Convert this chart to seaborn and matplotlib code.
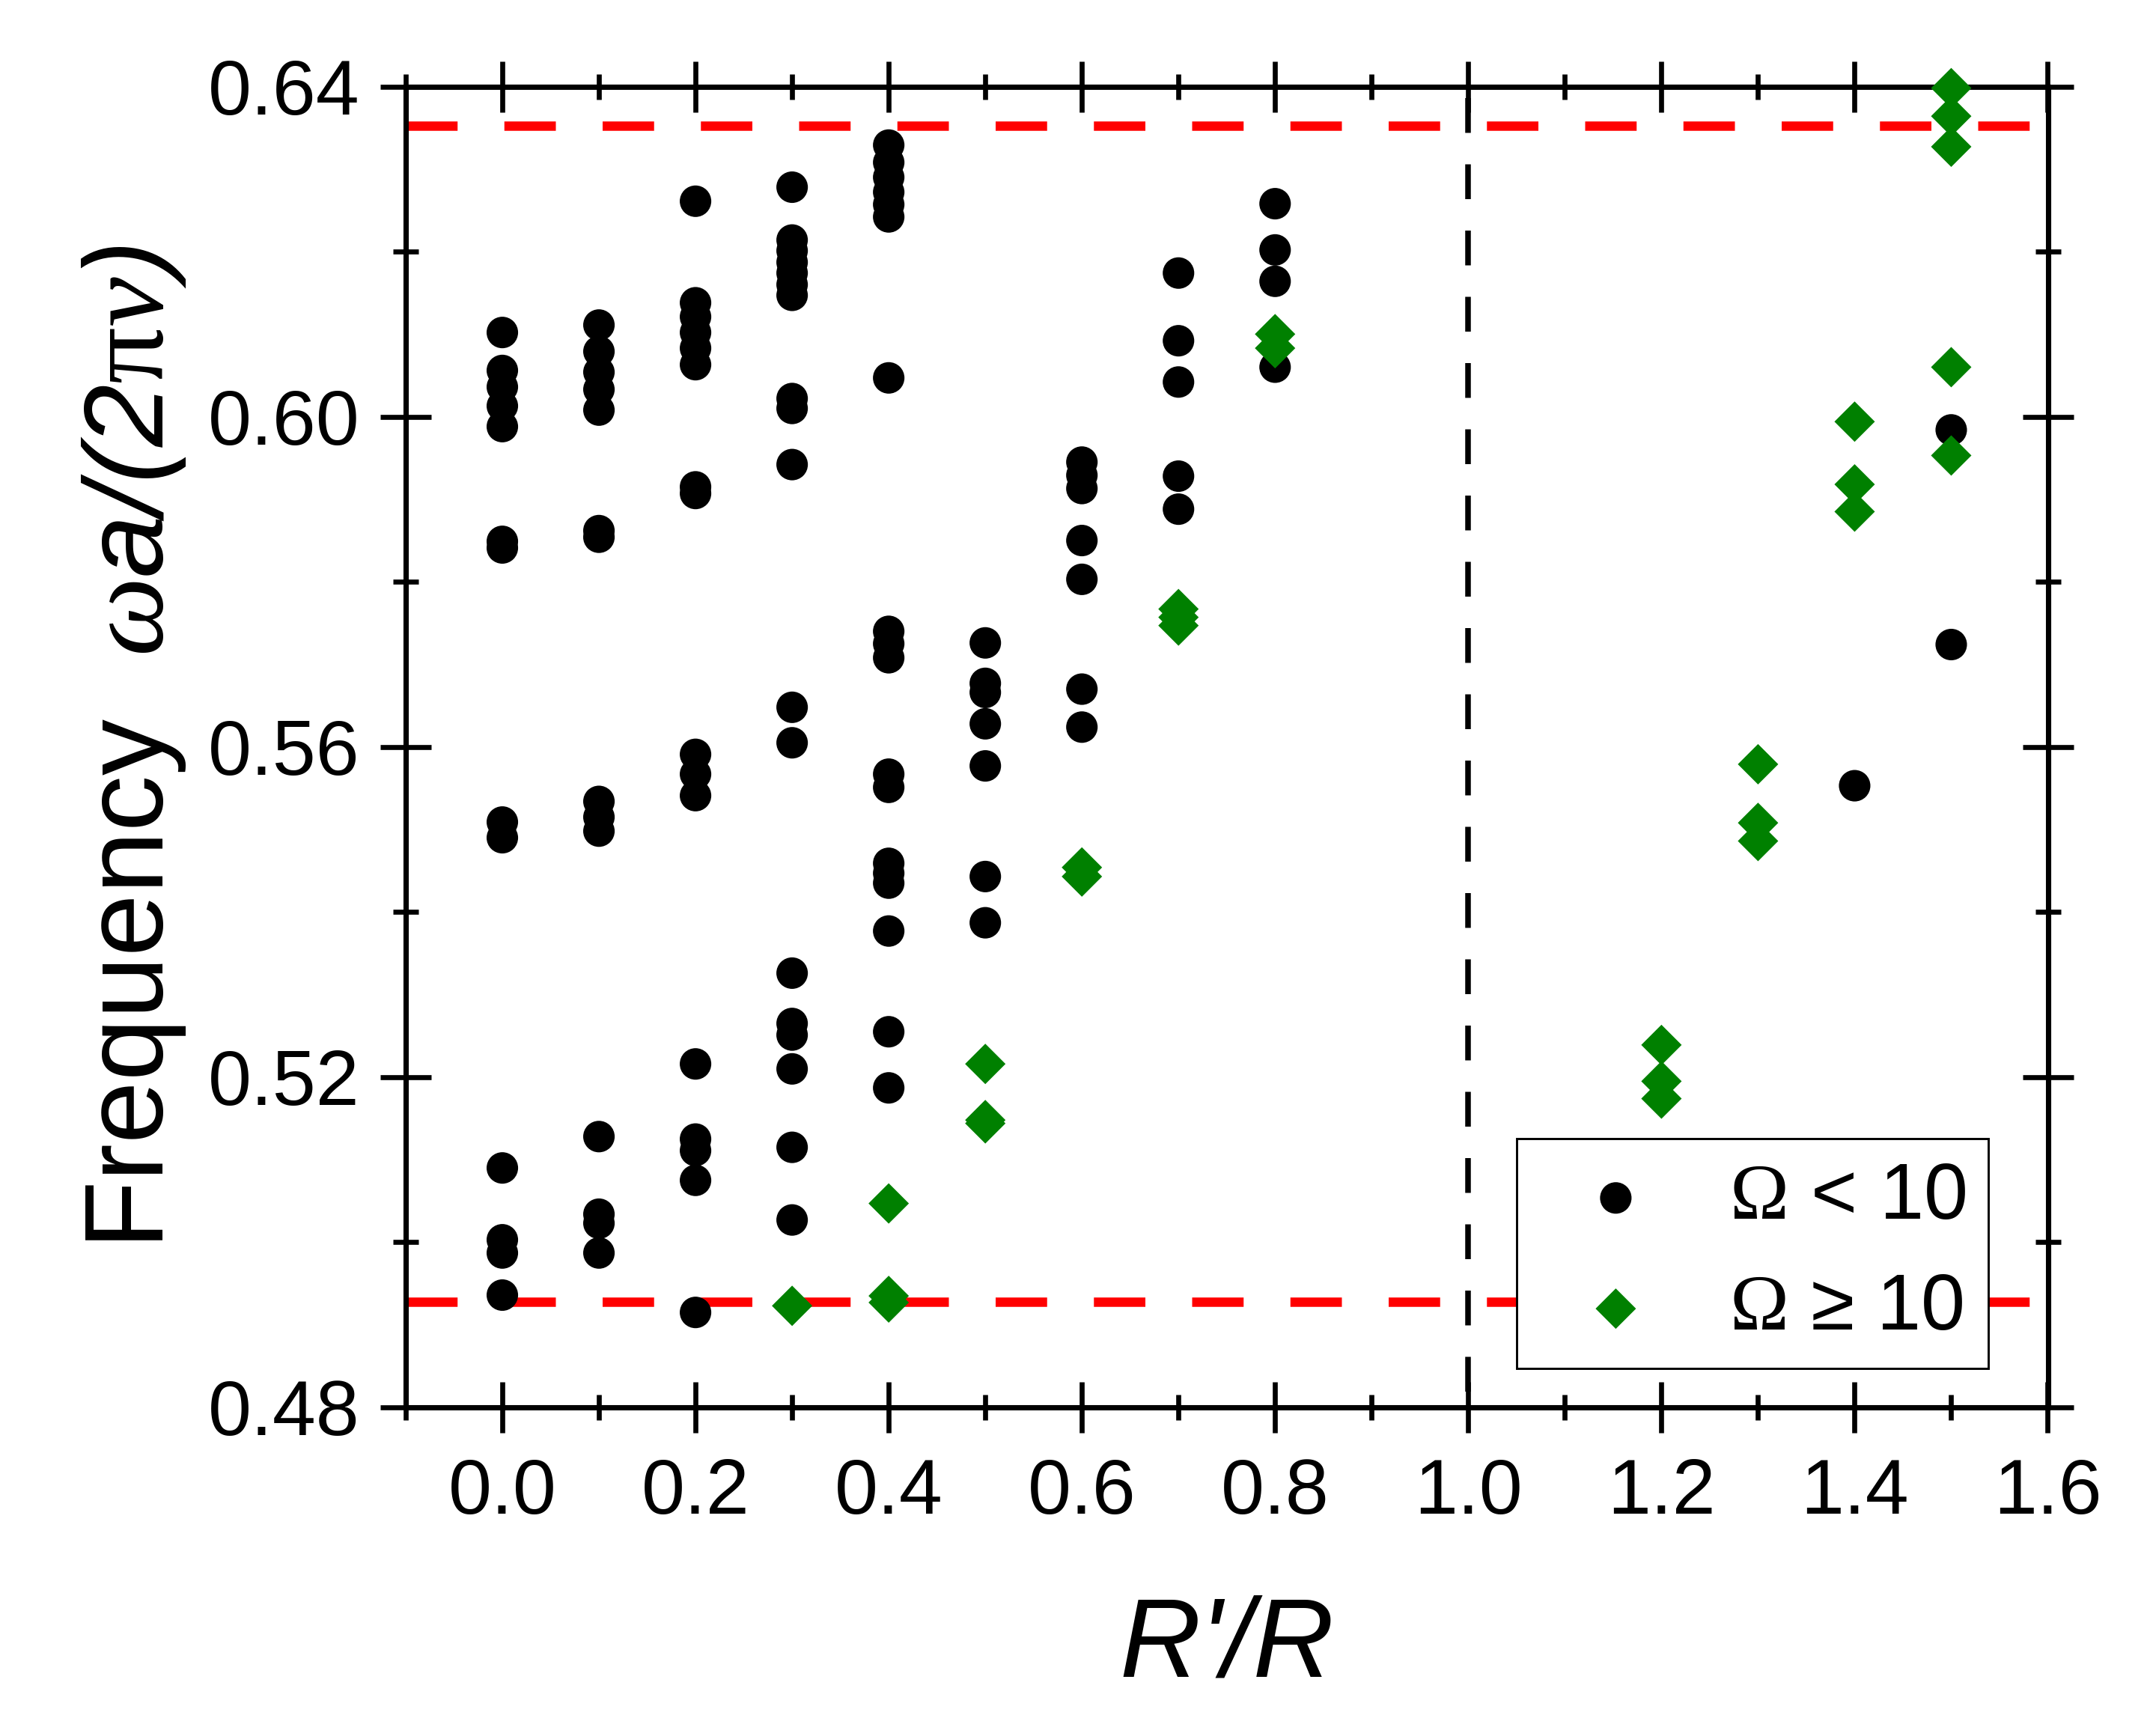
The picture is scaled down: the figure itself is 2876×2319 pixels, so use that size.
import matplotlib
matplotlib.use("Agg")
import matplotlib.pyplot as plt
import numpy as np
import pandas as pd
import seaborn as sns
from matplotlib.ticker import MultipleLocator, FormatStrFormatter

# ---------------- data ----------------
# Omega < 10 (black circles): R'/R columns and their frequencies
low_columns = [0.0, 0.1, 0.2, 0.3, 0.4, 0.5, 0.6, 0.7, 0.8, 1.4, 1.5]
low_freqs = [
    [0.6102, 0.6056, 0.6036, 0.6013, 0.5988, 0.5849, 0.5841, 0.5509, 0.5490,
     0.5090, 0.5003, 0.4987, 0.4936],
    [0.6111, 0.6079, 0.6054, 0.6033, 0.6008, 0.5862, 0.5854, 0.5534, 0.5515,
     0.5498, 0.5128, 0.5034, 0.5023, 0.4987],
    [0.6261, 0.6138, 0.6121, 0.6102, 0.6083, 0.6063, 0.5915, 0.5907, 0.5591,
     0.5567, 0.5541, 0.5216, 0.5125, 0.5111, 0.5075, 0.4915],
    [0.6278, 0.6214, 0.6201, 0.6187, 0.6174, 0.6160, 0.6147, 0.6022, 0.6010,
     0.5942, 0.5648, 0.5605, 0.5326, 0.5265, 0.5251, 0.5210, 0.5115, 0.5027],
    [0.6329, 0.6308, 0.6290, 0.6272, 0.6257, 0.6242, 0.6047, 0.5740, 0.5725,
     0.5708, 0.5567, 0.5551, 0.5459, 0.5447, 0.5435, 0.5377, 0.5255, 0.5187],
    [0.5726, 0.5677, 0.5666, 0.5628, 0.5577, 0.5443, 0.5387],
    [0.5945, 0.5929, 0.5913, 0.5850, 0.5803, 0.5670, 0.5624],
    [0.6174, 0.6092, 0.6042, 0.5928, 0.5888],
    [0.6258, 0.6202, 0.6164, 0.6060],
    [0.5553],
    [0.5984, 0.5724],
]

# Omega >= 10 (green diamonds)
high_columns = [0.3, 0.4, 0.5, 0.6, 0.7, 0.8, 1.2, 1.3, 1.4, 1.5]
high_freqs = [
    [0.4923],
    [0.5047, 0.4935, 0.4927],
    [0.5216, 0.5148, 0.5144],
    [0.5454, 0.5443],
    [0.5767, 0.5757, 0.5747],
    [0.6100, 0.6083],
    [0.5239, 0.5195, 0.5174],
    [0.5579, 0.5508, 0.5486],
    [0.5994, 0.5918, 0.5885],
    [0.6398, 0.6364, 0.6327, 0.6060, 0.5953],
]

band_edges = [0.6352, 0.4928]     # red dashed lines
divider_x = [1.0]                 # black dashed vertical line

x_ticks = [0.0, 0.2, 0.4, 0.6, 0.8, 1.0, 1.2, 1.4, 1.6]
y_ticks = [0.48, 0.52, 0.56, 0.60, 0.64]
legend_labels = [r"$\mathsf{\Omega}$ < 10", r"$\mathsf{\Omega}$ ≥ 10"]

low_df = pd.DataFrame(
    [(c, f) for c, fs in zip(low_columns, low_freqs) for f in fs],
    columns=["ratio", "freq"])
high_df = pd.DataFrame(
    [(c, f) for c, fs in zip(high_columns, high_freqs) for f in fs],
    columns=["ratio", "freq"])

# ---------------- style ----------------
sns.set_style("ticks")
plt.rcParams["font.family"] = ["Liberation Sans", "DejaVu Sans"]
plt.rcParams["mathtext.fontset"] = "custom"
plt.rcParams["mathtext.rm"] = "Liberation Sans:italic"
plt.rcParams["mathtext.it"] = "Liberation Sans:italic"
plt.rcParams["mathtext.sf"] = "Liberation Serif"
plt.rcParams["mathtext.bf"] = "Liberation Serif:italic"
for key in ["text.color", "axes.labelcolor", "xtick.color", "ytick.color",
            "axes.edgecolor"]:
    plt.rcParams[key] = "black"

W, H, DPI = 2876, 2319, 300
fig = plt.figure(figsize=(W / DPI, H / DPI), dpi=DPI)
fig.patch.set_facecolor("white")
L, R, T, B = 542, 2735.5, 115.5, 1880
ax = fig.add_axes([L / W, 1 - B / H, (R - L) / W, (B - T) / H])
ax.set_facecolor("white")

ax.set_xlim(-0.1, 1.6)
ax.set_ylim(0.48, 0.64)

for yv in band_edges:
    ax.axhline(yv, color="#ff0000", lw=3.0, ls=(0, (5.5, 5.0)), zorder=2)
y_top, y_bot = ax.get_ylim()[1], ax.get_ylim()[0]
for xv in divider_x:
    ax.plot([xv, xv], [y_top, y_bot], color="black", lw=1.8,
            ls=(9.8, (6.2, 5.6)), zorder=2)

sns.scatterplot(data=low_df, x="ratio", y="freq", ax=ax, color="black",
                marker="o", s=102, linewidth=0, edgecolor="none",
                legend=False, zorder=4, label=legend_labels[0], clip_on=False)
sns.scatterplot(data=high_df, x="ratio", y="freq", ax=ax, color="#008000",
                marker="D", s=84, linewidth=0, edgecolor="none",
                legend=False, zorder=4, label=legend_labels[1], clip_on=False)

ax.set_xlim(-0.1, 1.6)
ax.set_ylim(0.48, 0.64)
ax.set_xticks(x_ticks)
ax.set_yticks(y_ticks)
ax.xaxis.set_minor_locator(MultipleLocator(0.1))
ax.yaxis.set_minor_locator(MultipleLocator(0.02))
ax.xaxis.set_major_formatter(FormatStrFormatter("%.1f"))
ax.yaxis.set_major_formatter(FormatStrFormatter("%.2f"))

for sp in ax.spines.values():
    sp.set_linewidth(1.7)
    sp.set_color("black")
    sp.set_visible(True)

ax.tick_params(which="both", direction="inout", top=True, right=True,
               color="black", labelcolor="black", width=1.6)
ax.tick_params(which="major", length=16.5, labelsize=25)
ax.tick_params(which="minor", length=8.2)
ax.tick_params(axis="x", which="major", pad=7.8)
ax.tick_params(axis="y", which="major", pad=6.5)

ax.set_xlabel("R'/R", fontsize=36, fontstyle="italic", color="black")
ax.set_ylabel(r"Frequency  $\mathbf{\omega}a/(2\mathsf{\pi}\mathbf{\nu})$",
              fontsize=36, color="black")
ax.xaxis.set_label_coords(0.5, -0.1417)
ax.yaxis.set_label_coords(-0.1327, 0.5)

leg = ax.legend(loc="lower right", bbox_to_anchor=(0.9638, 0.0296),
                borderaxespad=0, frameon=True, fancybox=False,
                edgecolor="black", framealpha=1, fontsize=25.5,
                borderpad=0.28, handlelength=1.94, handletextpad=0.46,
                labelspacing=0.46)
leg.get_frame().set_linewidth(0.7)
leg.set_zorder(10)
for t in leg.get_texts():
    t.set_color("black")

fig.savefig("out.png", dpi=DPI, facecolor="white")
